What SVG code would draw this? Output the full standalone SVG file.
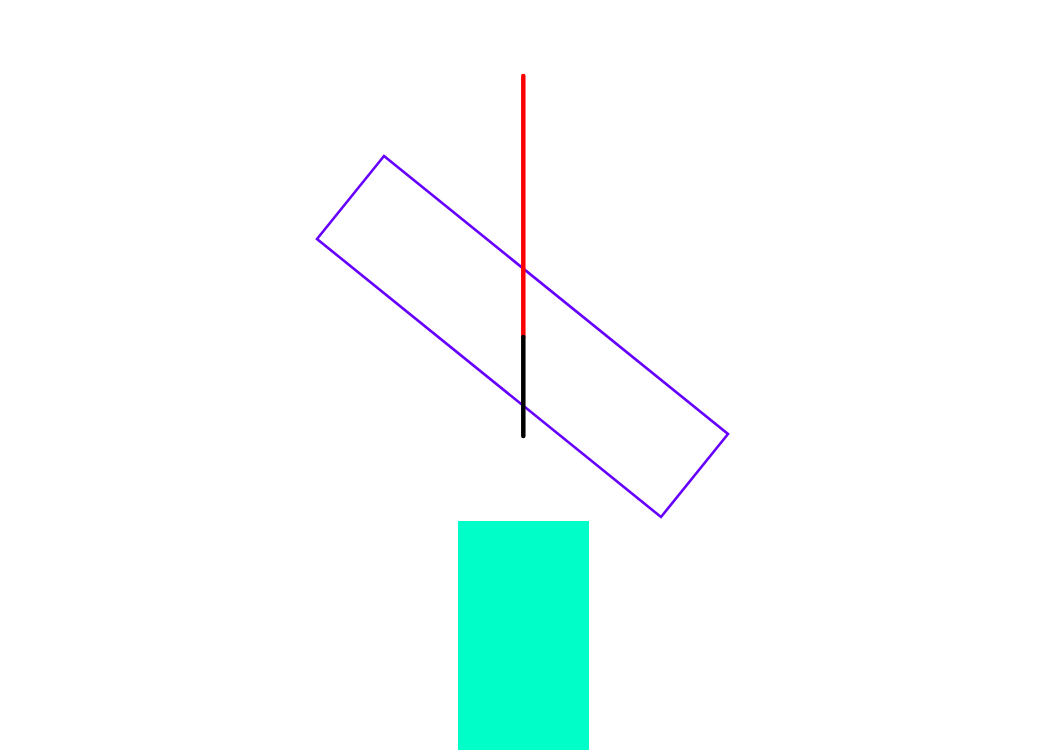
<svg xmlns="http://www.w3.org/2000/svg" width="1047" height="750" viewBox="0 0 1047 750">
<style>
.bar{stroke-width:4.5;stroke-linecap:round;fill:none}
</style>
<rect width="1047" height="750" fill="#ffffff"/>
<g id="base"><rect x="458" y="521" width="131" height="229" fill="#00ffc8"/></g>
<g id="board"><polygon points="384,156 728,434 661,517 317,239" fill="none" stroke="#6600ff" stroke-width="2.6" stroke-linejoin="miter"/></g>
<g id="connectors">
<line class="bar" x1="523.3" y1="76" x2="523.3" y2="337" stroke="#ff0000"/>
<line class="bar" x1="523.3" y1="337" x2="523.3" y2="436" stroke="#000000"/>
</g>
</svg>
